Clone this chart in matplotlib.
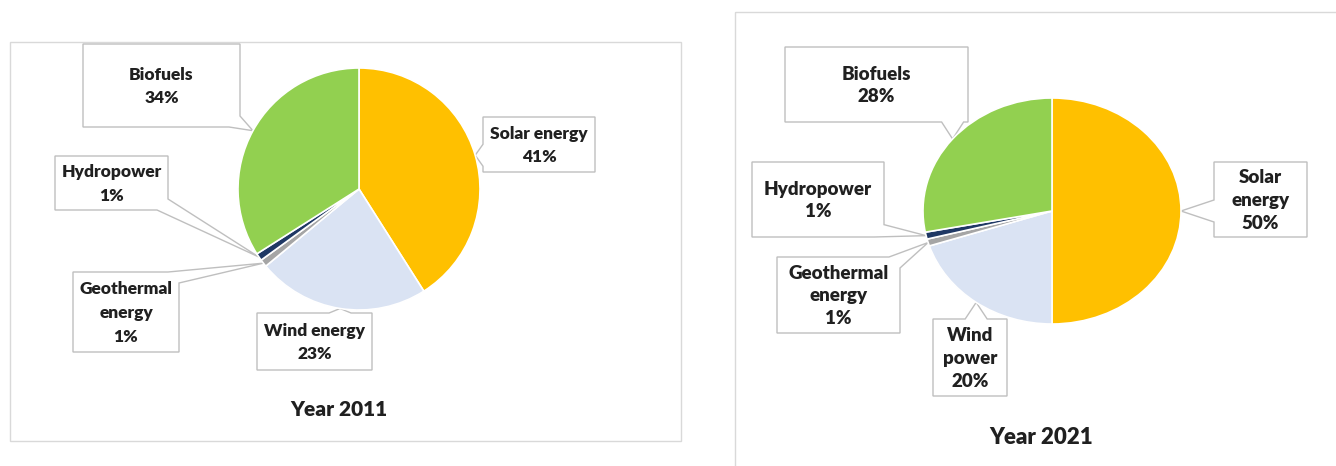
import numpy as np
import matplotlib.pyplot as plt
from matplotlib.patches import Polygon, Rectangle

W, H = 1336, 466
plt.rcParams['font.family'] = ['Lato', 'DejaVu Sans']

# Renewable energy mix, share of each source (%)
sources_2011 = ['Solar energy', 'Wind energy', 'Geothermal\nenergy', 'Hydropower', 'Biofuels']
shares_2011 = [41, 23, 1, 1, 34]
sources_2021 = ['Solar\nenergy', 'Wind\npower', 'Geothermal\nenergy', 'Hydropower', 'Biofuels']
shares_2021 = [50, 20, 1, 1, 28]
titles = ['Year 2011', 'Year 2021']

colors = ['#FFC000', '#DAE3F3', '#A5A5A5', '#1F3864', '#92D050']
TEXT = '#202020'
EDGE = '#BFBFBF'

fig = plt.figure(figsize=(W / 100, H / 100), dpi=100)
bg = fig.add_axes([0, 0, 1, 1])
bg.set_xlim(0, W)
bg.set_ylim(H, 0)
bg.axis('off')


def draw_pie(shares, cx, cy, rx, ry):
    """Pie in its own axes; returns the pixel point on the rim at each slice middle."""
    ax = fig.add_axes([(cx - rx) / W, (H - cy - ry) / H, 2 * rx / W, 2 * ry / H])
    ax.pie(shares, colors=colors, startangle=90, counterclock=False,
           wedgeprops=dict(edgecolor='white', linewidth=1.2))
    ax.set_aspect('auto')
    ax.set_xlim(-1, 1)
    ax.set_ylim(-1, 1)
    frac = np.array(shares) / sum(shares)
    mids = 2 * np.pi * (np.cumsum(frac) - frac / 2)
    return cx + rx * np.sin(mids), cy - ry * np.cos(mids)


def callout(box, tip, half=11):
    """Box outline with a pointer running to tip (pixel coords, y down)."""
    x0, y0, x1, y1 = box
    w, h = x1 - x0, y1 - y0
    L = 2 * (w + h)

    def at(s):
        s %= L
        if s <= w:
            return (x0 + s, y0)
        s -= w
        if s <= h:
            return (x1, y0 + s)
        s -= h
        if s <= w:
            return (x1 - s, y1)
        s -= w
        return (x0, y1 - s)

    px, py = np.clip(tip[0], x0, x1), np.clip(tip[1], y0, y1)
    if py == y0:
        sp = px - x0
    elif px == x1:
        sp = w + (py - y0)
    elif py == y1:
        sp = w + h + (x1 - px)
    else:
        sp = 2 * w + h + (y1 - py)
    s_start, s_end = sp + half, sp - half + L
    corners = [0, w, w + h, 2 * w + h]
    pts = [at(s_start)]
    for c in corners + [c + L for c in corners]:
        if s_start < c < s_end:
            pts.append(at(c))
    pts += [at(s_end), tip]
    return Polygon(pts, closed=True, facecolor='white', edgecolor=EDGE, lw=1, zorder=2)


def draw_labels(names, shares, boxes, tips_x, tips_y, fs, spacing):
    for name, share, box, tx, ty in zip(names, shares, boxes, tips_x, tips_y):
        bg.add_patch(callout(box, (tx, ty)))
        bg.text((box[0] + box[2]) / 2, (box[1] + box[3]) / 2 + 1, f'{name}\n{share}%',
                ha='center', va='center', multialignment='center', fontsize=fs,
                fontweight='heavy', linespacing=spacing, color=TEXT, zorder=3)


# panel frames
bg.add_patch(Rectangle((10, 42), 671, 399, fill=False, ec='#D9D9D9', lw=1))
bg.add_patch(Rectangle((735, 12), 620, 470, fill=False, ec='#D9D9D9', lw=1))

# 2011
tx, ty = draw_pie(shares_2011, 359, 189, 121, 121)
boxes_2011 = [(483, 117, 595, 172), (257, 313, 372, 370), (73, 272, 179, 352),
              (55, 156, 168, 210), (83, 44, 240, 127)]
draw_labels(sources_2011, shares_2011, boxes_2011, tx, ty, 12.5, 1.6)
bg.text(339, 410, titles[0], ha='center', va='center', fontsize=15,
        fontweight='heavy', color=TEXT)

# 2021
tx, ty = draw_pie(shares_2021, 1052, 211, 129, 113)
boxes_2021 = [(1214, 162, 1307, 237), (933, 319, 1007, 396), (777, 257, 900, 333),
              (752, 162, 884, 237), (785, 47, 968, 122)]
draw_labels(sources_2021, shares_2021, boxes_2021, tx, ty, 13.5, 1.4)
bg.text(1041, 438, titles[1], ha='center', va='center', fontsize=16,
        fontweight='heavy', color=TEXT)

fig.savefig('out.png', dpi=100)
